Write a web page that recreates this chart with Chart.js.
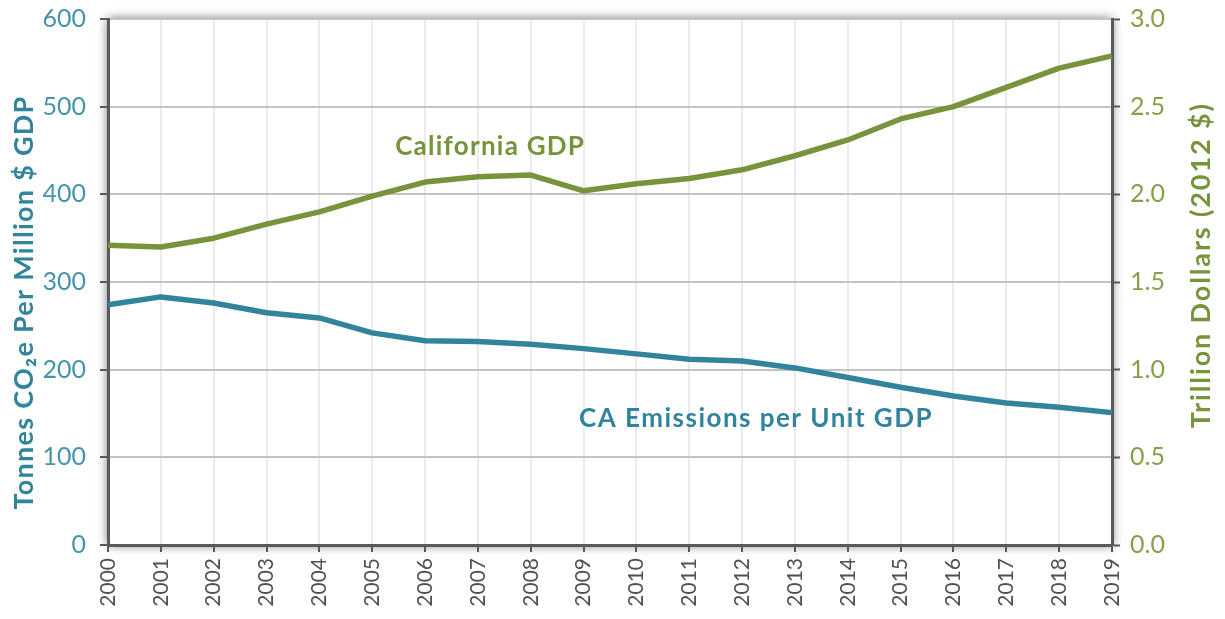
<!DOCTYPE html>
<html>
<head>
<meta charset="utf-8">
<script src="https://cdn.jsdelivr.net/npm/chart.js@4/dist/chart.umd.min.js"></script>
<style>
html,body{margin:0;padding:0;background:#fff;}
#wrap{width:1225px;height:619px;position:relative;}
</style>
</head>
<body>
<div id="wrap"><canvas id="c" width="1225" height="619"></canvas></div>
<script>
const years = ['2000','2001','2002','2003','2004','2005','2006','2007','2008','2009','2010','2011','2012','2013','2014','2015','2016','2017','2018','2019'];
const emissionsPerGDP = [274, 283, 276, 265, 259, 242, 233, 232, 229, 224, 218, 212, 210, 202, 191, 180, 170, 162, 157, 151];
const caGDP = [1.71, 1.70, 1.75, 1.83, 1.90, 1.99, 2.07, 2.10, 2.11, 2.02, 2.06, 2.09, 2.14, 2.22, 2.31, 2.43, 2.50, 2.61, 2.72, 2.79];
const leftTicks = [0, 100, 200, 300, 400, 500, 600];
const rightTicks = [0, 0.5, 1.0, 1.5, 2.0, 2.5, 3.0];
const labelGDP = 'California GDP';
const labelEm = 'CA Emissions per Unit GDP';
const titleLeft = 'Tonnes CO\u2082e Per Million $ GDP';
const titleRight = 'Trillion Dollars (2012 $)';

const TEAL = '#31849b';
const TEAL_T = '#4694aa';
const GREEN = '#77933c';
const GREEN_T = '#86a04a';
const AXIS = '#595959';
const FONT = 'Lato, "Open Sans", sans-serif';

// draw text centred at (cx, baseline cy) spread to a target width
function drawSpread(ctx, text, cx, cy, rot, target, font, color) {
  ctx.save();
  ctx.font = font;
  ctx.fillStyle = color;
  ctx.letterSpacing = '0px';
  const w = ctx.measureText(text).width;
  const n = Array.from(text).length;
  const sp = Math.max(0, (target - w) / n);
  ctx.letterSpacing = sp + 'px';
  const w2 = ctx.measureText(text).width;
  ctx.translate(cx, cy);
  ctx.rotate(rot);
  ctx.textAlign = 'left';
  ctx.textBaseline = 'alphabetic';
  ctx.fillText(text, -w2 / 2 + sp / 2, 0);
  ctx.restore();
}

const shadowPlugin = {
  id: 'shadow',
  beforeDraw(chart) {
    const {ctx, chartArea: a} = chart;
    ctx.save();
    ctx.fillStyle = '#fff';
    ctx.shadowColor = 'rgba(0,0,0,0.6)';
    ctx.shadowBlur = 10;
    ctx.fillRect(a.left, a.top, a.right - a.left, a.bottom - a.top);
    ctx.restore();
  }
};

const annotPlugin = {
  id: 'annot',
  afterDraw(chart) {
    const {ctx} = chart;
    const x = chart.scales.x, y = chart.scales.y;
    drawSpread(ctx, labelGDP, x.getPixelForValue(7.22), y.getPixelForValue(445), 0, 190, 'bold 26px ' + FONT, GREEN);
    drawSpread(ctx, labelEm, x.getPixelForValue(12.25), y.getPixelForValue(134.5), 0, 354, 'bold 26px ' + FONT, TEAL);
    // axis titles (both read bottom-to-top)
    drawSpread(ctx, titleLeft, 33, y.getPixelForValue(276), -Math.PI / 2, 414, 'bold 27px ' + FONT, TEAL);
    drawSpread(ctx, titleRight, 1210, y.getPixelForValue(318), -Math.PI / 2, 326, 'bold 27px ' + FONT, GREEN);
  }
};

function noPad(s) { s.paddingTop = 0; s.paddingBottom = 0; }

new Chart(document.getElementById('c'), {
  type: 'line',
  data: {
    labels: years,
    datasets: [
      {label: labelEm, data: emissionsPerGDP, yAxisID: 'y', borderColor: TEAL, borderWidth: 5.5, pointRadius: 0, tension: 0, borderCapStyle: 'butt', borderJoinStyle: 'round'},
      {label: labelGDP, data: caGDP, yAxisID: 'y1', borderColor: GREEN, borderWidth: 5.5, pointRadius: 0, tension: 0, borderCapStyle: 'butt', borderJoinStyle: 'round'}
    ]
  },
  options: {
    responsive: false,
    animation: false,
    devicePixelRatio: 1,
    layout: {padding: {top: 19, left: 0, right: 0, bottom: 0}},
    plugins: {legend: {display: false}, tooltip: {enabled: false}},
    scales: {
      x: {
        offset: false,
        afterFit(s) { s.height = 74; s.paddingLeft = 0; s.paddingRight = 0; },
        grid: {color: '#ebebeb', lineWidth: 2, tickColor: AXIS, tickLength: 7, tickWidth: 2},
        border: {color: AXIS, width: 3},
        ticks: {color: '#505050', font: {family: FONT, size: 21}, minRotation: 90, maxRotation: 90, padding: 6, autoSkip: false}
      },
      y: {
        position: 'left',
        min: 0, max: 600,
        afterFit(s) { s.width = 108; noPad(s); },
        afterBuildTicks(s) { s.ticks = leftTicks.map(v => ({value: v})); },
        grid: {color: '#c3c3c3', lineWidth: 2, tickColor: AXIS, tickLength: 8, tickWidth: 2},
        border: {color: AXIS, width: 3},
        ticks: {color: TEAL_T, font: {family: FONT, size: 25}, padding: 14}
      },
      y1: {
        position: 'right',
        min: 0, max: 3,
        afterFit(s) { s.width = 113; noPad(s); },
        afterBuildTicks(s) { s.ticks = rightTicks.map(v => ({value: v})); },
        grid: {drawOnChartArea: false, tickColor: AXIS, tickLength: 8, tickWidth: 2},
        border: {color: AXIS, width: 3},
        ticks: {color: GREEN_T, font: {family: FONT, size: 25}, padding: 10, callback: v => Number(v).toFixed(1)}
      }
    }
  },
  plugins: [shadowPlugin, annotPlugin]
});
</script>
</body>
</html>
